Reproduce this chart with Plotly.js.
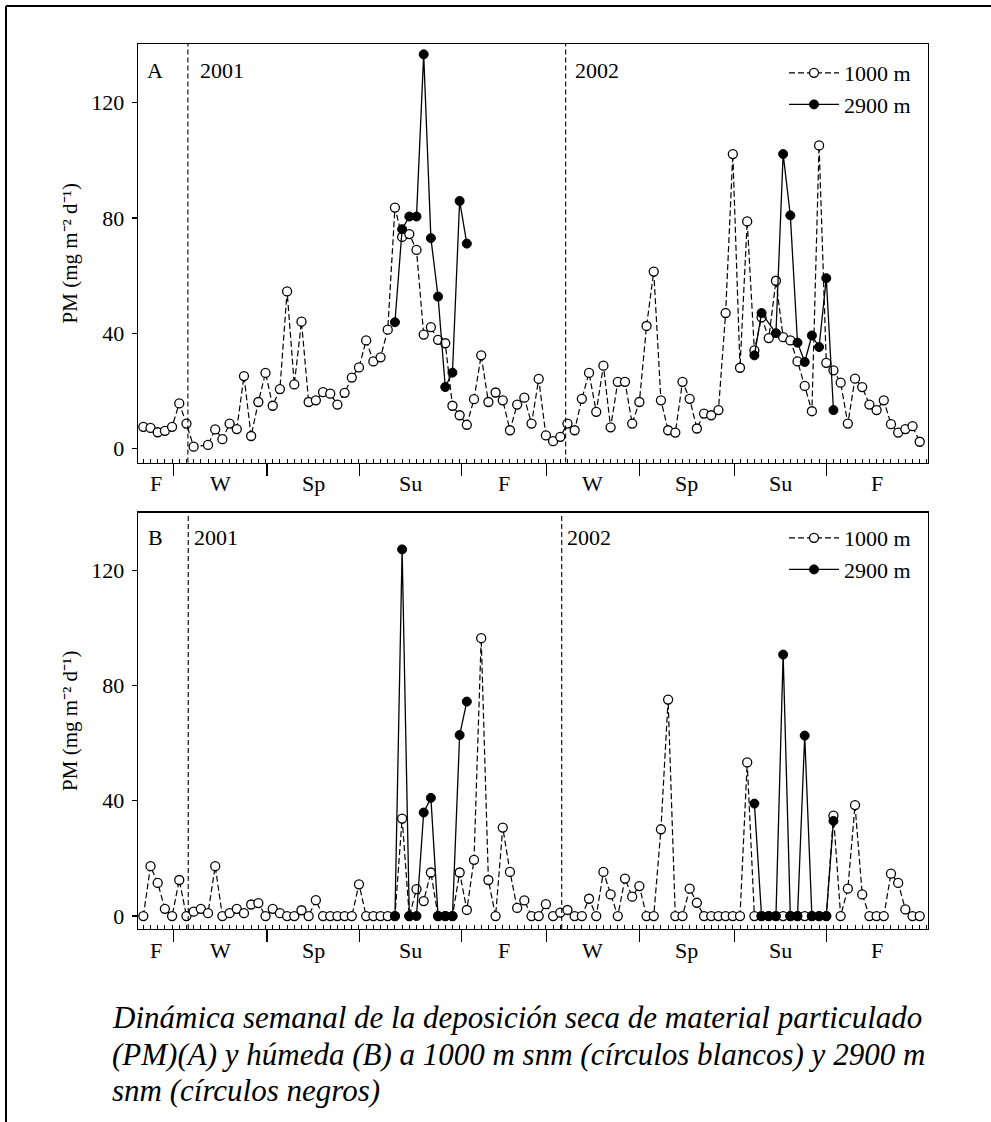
<!DOCTYPE html>
<html>
<head>
<meta charset="utf-8">
<script src="https://cdn.plot.ly/plotly-3.0.1.min.js"></script>
<style>
html,body{margin:0;padding:0;background:#fff;}
#chart{width:991px;height:1122px;}
</style>
</head>
<body>
<div id="chart"></div>
<script>
// Weekly PM deposition (mg m-2 d-1), week index 0..108
const dryLow = [7.5,7.1,5.6,6.1,7.5,15.6,8.6,0.6,null,1.2,
  6.6,3.2,8.6,6.7,25.1,4.3,16.1,26.2,14.8,20.6,
  54.5,22.2,44.0,16.1,16.7,19.5,19.0,15.2,19.3,24.6,
  28.1,37.5,30.2,31.6,41.2,83.6,73.4,74.4,68.9,39.5,
  42.1,37.7,36.5,14.8,11.5,8.2,17.1,32.3,16.1,19.4,
  16.7,6.3,15.2,17.6,8.6,24.1,4.5,2.5,4.0,8.6,
  6.3,17.2,26.2,12.7,28.7,7.3,23.1,23.1,8.6,16.1,
  42.5,61.4,16.7,6.3,5.5,23.1,17.2,6.9,12.1,11.5,
  13.3,47.0,102.2,28.0,78.8,34.0,45.5,38.3,58.2,38.6,
  37.5,30.2,21.7,12.9,105.2,29.7,27.1,22.8,8.6,24.2,
  21.3,15.2,13.3,16.7,8.4,5.5,6.7,7.7,2.3];
const dryHigh = [null,null,null,null,null,null,null,null,null,null,
  null,null,null,null,null,null,null,null,null,null,
  null,null,null,null,null,null,null,null,null,null,
  null,null,null,null,null,43.8,76.1,80.5,80.5,136.8,
  73.0,52.7,21.3,26.3,85.9,71.1,null,null,null,null,
  null,null,null,null,null,null,null,null,null,null,
  null,null,null,null,null,null,null,null,null,null,
  null,null,null,null,null,null,null,null,null,null,
  null,null,null,null,null,32.3,47.0,null,40.0,102.2,
  80.9,36.7,30.0,39.2,35.2,59.1,13.3,null,null,null,
  null,null,null,null,null,null,null,null,null];
const wetLow = [0,17.3,11.5,2.5,0,12.5,0,1.5,2.5,1,
  17.3,0,1,2.5,1,4,4.5,0,2.5,1,
  0,0,2,0,5.5,0,0,0,0,0,
  11,0,0,0,0,0,33.8,0,9.3,5.2,
  15.1,0,0,0,15.1,2.1,19.5,96.4,12.5,0,
  30.7,15.3,2.8,5.4,0,0,4.1,0,1.2,2.1,
  0,0,6.0,0,15.3,7.5,0,13.0,6.7,10.4,
  0,0,30.1,75.1,0,0,9.5,4.6,0,0,
  0,0,0,0,53.3,0,0,0,0,0,
  0,0,0,0,0,0,34.8,0,9.5,38.5,
  7.5,0,0,0,14.7,11.5,2.3,0,0];
const wetHigh = [null,null,null,null,null,null,null,null,null,null,
  null,null,null,null,null,null,null,null,null,null,
  null,null,null,null,null,null,null,null,null,null,
  null,null,null,null,null,0,127.2,0,0,35.9,
  41.0,0,0,0,62.8,74.4,null,null,null,null,
  null,null,null,null,null,null,null,null,null,null,
  null,null,null,null,null,null,null,null,null,null,
  null,null,null,null,null,null,null,null,null,null,
  null,null,null,null,null,39.0,0,0,0,90.7,
  0,0,62.6,0,0,0,33.0,null,null,null,
  null,null,null,null,null,null,null,null,null];
const seriesNames = ['1000 m', '2900 m'];
const seasonLabels = ['F','W','Sp','Su','F','W','Sp','Su','F'];
const seasonBounds = [4.2,17.2,30.1,44.3,56.1,69.0,82.2,95.0];
const yearLabels = ['2001','2002'];
const panelLabels = ['A','B'];
const yTicks = [0,40,80,120];
const yTitle = 'PM (mg m\u207B\u00B2 d\u207B\u00B9)';
const captionLines = [
  'Dinámica semanal de la deposición seca de material particulado',
  '(PM)(A) y húmeda (B) a 1000 m snm (círculos blancos) y 2900 m',
  'snm (círculos negros)'
];

// ---------- geometry ----------
const W = 991, H = 1122;
const M = {l:138, r:63, t:44, b:193};
const PW = W - M.l - M.r, PH = H - M.t - M.b;
const X = px => (px - M.l) / PW;
const Y = py => (H - M.b - py) / PH;
const xRange = [-0.74, 109.15];
const FONT = 'Liberation Serif, Times New Roman, serif';
const FS = 22;
const yearLinesA = [6.2, 58.75];
const yearLinesB = [6.25, 58.2];

const weeks = dryLow.map((_, i) => i);

// Build x/y dropping missing weeks, breaking the line across long gaps
function build(vals) {
  const xs = [], ys = [];
  let last = null;
  vals.forEach((v, i) => {
    if (v === null) return;
    if (last !== null && i - last > 2) { xs.push(null); ys.push(null); }
    xs.push(weeks[i]); ys.push(v); last = i;
  });
  return {xs, ys};
}

function lowTrace(vals, xa, ya, leg) {
  const d = build(vals);
  return {x: d.xs, y: d.ys, xaxis: xa, yaxis: ya, type: 'scatter', mode: 'lines+markers',
    name: seriesNames[0], legend: leg, connectgaps: false, cliponaxis: false,
    line: {color: '#000', width: 1.2, dash: '6px,3px'},
    marker: {symbol: 'circle', size: 9, color: '#fff', line: {color: '#000', width: 1.3}}};
}
function highTrace(vals, xa, ya, leg) {
  const d = build(vals);
  return {x: d.xs, y: d.ys, xaxis: xa, yaxis: ya, type: 'scatter', mode: 'lines+markers',
    name: seriesNames[1], legend: leg, connectgaps: false, cliponaxis: false,
    line: {color: '#000', width: 1.3},
    marker: {symbol: 'circle', size: 9, color: '#000', line: {color: '#000', width: 1}}};
}

const traces = [
  lowTrace(dryLow, 'x', 'y', 'legend'),
  highTrace(dryHigh, 'x', 'y', 'legend'),
  lowTrace(wetLow, 'x2', 'y2', 'legend2'),
  highTrace(wetHigh, 'x2', 'y2', 'legend2')
];

function xAxis(anchor) {
  return {domain: [0, 1], anchor: anchor, range: xRange, showline: true, mirror: true,
    linecolor: '#000', linewidth: 1.3, showgrid: false, zeroline: false,
    tickmode: 'array', tickvals: seasonBounds, ticks: 'outside', ticklen: 12, tickwidth: 1.1,
    tickcolor: '#000', showticklabels: false,
    minor: {tickmode: 'linear', tick0: 0, dtick: 1, ticks: 'inside', ticklen: 4, tickwidth: 1, tickcolor: '#000', showgrid: false}};
}
function yAxis(anchor, domain, range) {
  return {domain: domain, anchor: anchor, range: range, showline: true, mirror: true,
    linecolor: '#000', linewidth: 1.3, showgrid: false, zeroline: false,
    tickmode: 'array', tickvals: yTicks, ticks: 'outside', ticklen: 5, tickwidth: 1.1,
    tickcolor: '#000', ticklabelstandoff: 3,
    tickfont: {family: FONT, size: FS, color: '#000'},
    title: {text: yTitle, font: {family: FONT, size: 21, color: '#000'}, standoff: 8}};
}

const annotations = [];
function panelAnn(xa, ya, label, yearLines, yearShifts, labelShift) {
  seasonLabels.forEach((s, i) => {
    const lo = i === 0 ? xRange[0] : seasonBounds[i - 1];
    const hi = i === seasonLabels.length - 1 ? xRange[1] : seasonBounds[i];
    annotations.push({xref: xa, yref: ya + ' domain', x: (lo + hi) / 2, y: 0, yshift: -21,
      yanchor: 'middle', xanchor: 'center', showarrow: false, text: s,
      font: {family: FONT, size: FS, color: '#000'}});
  });
  yearLabels.forEach((t, i) => {
    annotations.push({xref: xa, yref: ya + ' domain', x: yearLines[i], y: 1, yshift: labelShift,
      xshift: yearShifts[i], xanchor: 'left', yanchor: 'middle', showarrow: false, text: t,
      font: {family: FONT, size: FS, color: '#000'}});
  });
  annotations.push({xref: xa + ' domain', yref: ya + ' domain', x: 0, y: 1, xshift: 17, yshift: labelShift,
    xanchor: 'center', yanchor: 'middle', showarrow: false, text: label,
    font: {family: FONT, size: FS, color: '#000'}});
}
panelAnn('x', 'y', panelLabels[0], yearLinesA, [10, 7], -26);
panelAnn('x2', 'y2', panelLabels[1], yearLinesB, [4, 3], -25);

const capY = [1017, 1054, 1090];
captionLines.forEach((t, i) => {
  annotations.push({xref: 'paper', yref: 'paper', x: X(110), y: Y(capY[i]), xanchor: 'left', yanchor: 'middle',
    showarrow: false, text: t, font: {family: FONT, size: 31, color: '#000', style: 'italic'}});
});

const shapes = [];
yearLinesA.forEach(v => shapes.push({type: 'line', xref: 'x', yref: 'y domain', x0: v, x1: v, y0: 0, y1: 1,
  line: {color: '#000', width: 1.1, dash: '5px,3px'}}));
yearLinesB.forEach(v => shapes.push({type: 'line', xref: 'x2', yref: 'y2 domain', x0: v, x1: v, y0: 0, y1: 1,
  line: {color: '#000', width: 1.1, dash: '5px,3px'}}));
// outer frame (top and left edges)
shapes.push({type: 'line', xref: 'paper', yref: 'paper', x0: X(6), x1: X(1000), y0: Y(6), y1: Y(6), line: {color: '#000', width: 2}});
shapes.push({type: 'line', xref: 'paper', yref: 'paper', x0: X(6), x1: X(6), y0: Y(6), y1: Y(1130), line: {color: '#000', width: 2}});

const legendBase = {xref: 'paper', yref: 'paper', xanchor: 'left', yanchor: 'top', bgcolor: 'rgba(0,0,0,0)',
  borderwidth: 0, font: {family: FONT, size: FS, color: '#000'}, itemwidth: 50, tracegroupgap: 0};

const layout = {
  width: W, height: H, margin: M, paper_bgcolor: '#fff', plot_bgcolor: '#fff',
  font: {family: FONT, size: FS, color: '#000'},
  xaxis: xAxis('y'),
  yaxis: yAxis('x', [Y(462.5), 1], [-4.9, 140.4]),
  xaxis2: xAxis('y2'),
  yaxis2: yAxis('x2', [0, Y(512.5)], [-4.5, 140.0]),
  legend: Object.assign({}, legendBase, {x: X(784), y: Y(52)}),
  legend2: Object.assign({}, legendBase, {x: X(784), y: Y(517)}),
  annotations: annotations,
  shapes: shapes,
  showlegend: true
};

Plotly.newPlot('chart', traces, layout, {staticPlot: true, displayModeBar: false});
</script>
</body>
</html>
